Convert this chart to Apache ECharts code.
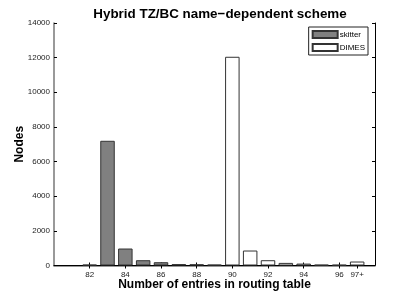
<!DOCTYPE html>
<html>
<head>
<meta charset="utf-8">
<script src="https://cdn.jsdelivr.net/npm/echarts@6/dist/echarts.min.js"></script>
<style>html,body{margin:0;padding:0;background:#fff}#c{width:415px;height:299px}</style>
</head>
<body>
<div id="c"></div>
<script>
var categories = ['80','81','82','83','84','85','86','87','88','89','90','91','92','93','94','95','96','97+','98'];
var tickLabels = ['82','84','86','88','90','92','94','96','97+'];
var skitter = [null,null,50,7200,980,305,190,80,70,50,null,null,null,null,null,null,null,null,null];
var dimes   = [null,null,null,null,null,null,null,null,null,null,12050,865,305,150,110,45,40,230,null];
var yTicks = [0,2000,4000,6000,8000,10000,12000,14000];

var font = 'Liberation Sans, Arial, sans-serif';
var showIdx = function (idx, val) { return tickLabels.indexOf(val) >= 0; };

var chart = echarts.init(document.getElementById('c'), null, {renderer: 'canvas'});
chart.setOption({
  animation: false,
  backgroundColor: '#fff',
  title: {
    text: 'Hybrid TZ/BC name\u2212dependent scheme',
    left: 215, top: 3, textAlign: 'center',
    textStyle: {fontFamily: font, fontWeight: 'bold', fontSize: 13.4, color: '#000'}
  },
  legend: {
    orient: 'vertical', right: 47, top: 27,
    itemWidth: 25, itemHeight: 7, itemGap: 4,
    padding: [3, 3, 3, 3],
    borderColor: '#222', borderWidth: 1, backgroundColor: '#fff',
    textStyle: {fontFamily: font, fontSize: 8, color: '#000', padding: [0, 0, 0, -3]},
    data: [{name: 'skitter', icon: 'rect'}, {name: 'DIMES', icon: 'rect'}]
  },
  grid: {left: 54, right: 40, top: 23, bottom: 33.5, containLabel: false, outerBoundsMode: 'none'},
  xAxis: [{
    type: 'category', data: categories, boundaryGap: false, position: 'bottom',
    name: 'Number of entries in routing table', nameLocation: 'middle', nameGap: 13,
    nameMoveOverlap: false,
    nameTextStyle: {fontFamily: font, fontWeight: 'bold', fontSize: 12, color: '#000'},
    axisLine: {lineStyle: {color: '#777', width: 1.5}},
    axisTick: {inside: true, length: 3, interval: showIdx, lineStyle: {color: '#000'}},
    axisLabel: {interval: showIdx, fontFamily: font, fontSize: 8, color: '#222', margin: 5},
    splitLine: {show: false}
  }, {
    type: 'category', data: categories, boundaryGap: false, position: 'top',
    axisLine: {lineStyle: {color: '#000', width: 1}},
    axisTick: {inside: true, length: 3, interval: showIdx, lineStyle: {color: '#000'}},
    axisLabel: {show: false}, splitLine: {show: false}
  }],
  yAxis: [{
    type: 'value', min: 0, max: 14000, interval: 2000, position: 'left',
    name: 'Nodes', nameLocation: 'middle', nameGap: 28,
    nameMoveOverlap: false,
    nameTextStyle: {fontFamily: font, fontWeight: 'bold', fontSize: 12, color: '#000'},
    axisLine: {show: true, lineStyle: {color: '#777', width: 1.5}},
    axisTick: {show: true, inside: true, length: 3, lineStyle: {color: '#000'}},
    axisLabel: {fontFamily: font, fontSize: 8, color: '#222', margin: 4,
      formatter: function (v) { return yTicks.indexOf(v) >= 0 ? String(v) : ''; }},
    splitLine: {show: false}
  }, {
    type: 'value', min: 0, max: 14000, interval: 2000, position: 'right',
    axisLine: {show: true, lineStyle: {color: '#000', width: 1}},
    axisTick: {show: true, inside: true, length: 3, lineStyle: {color: '#000'}},
    axisLabel: {show: false}, splitLine: {show: false}
  }],
  series: [{
    name: 'skitter', type: 'bar', data: skitter, barWidth: 14.5, barGap: '-100%',
    itemStyle: {color: '#808080', borderColor: '#333', borderWidth: 1}
  }, {
    name: 'DIMES', type: 'bar', data: dimes, barWidth: 14.5, barGap: '-100%',
    itemStyle: {color: '#fff', borderColor: '#333', borderWidth: 1}
  }]
});
</script>
</body>
</html>
